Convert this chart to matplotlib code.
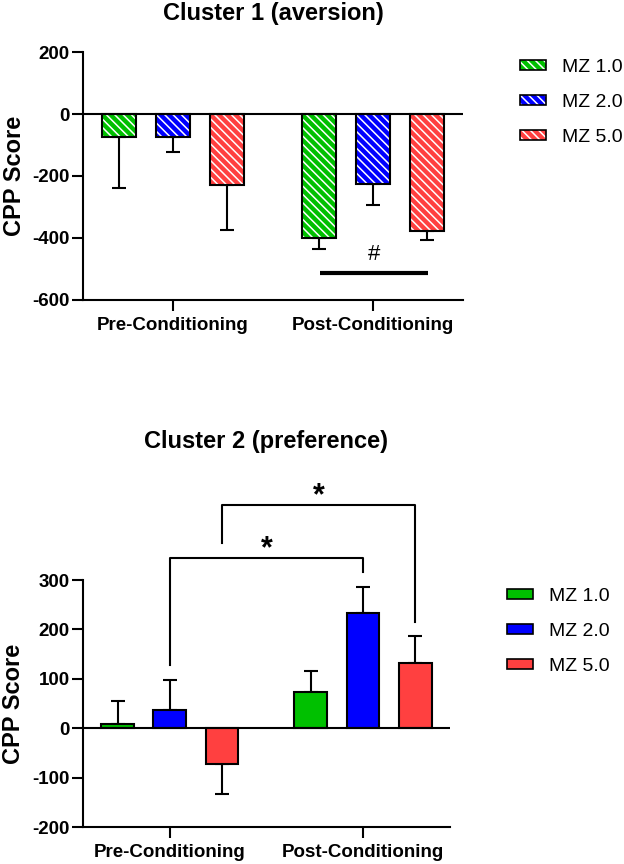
import numpy as np
import matplotlib
matplotlib.use("Agg")
import matplotlib.pyplot as plt
from matplotlib.patches import Patch
from matplotlib.legend_handler import HandlerTuple

plt.rcParams['font.family'] = ['Liberation Sans', 'DejaVu Sans']
plt.rcParams['hatch.linewidth'] = 1.1
plt.rcParams['axes.unicode_minus'] = False

# -----------------------
# Data
# -----------------------
phases = ["Pre-Conditioning", "Post-Conditioning"]
groups = ["MZ 1.0", "MZ 2.0", "MZ 5.0"]
colors = ["#00C000", "#0000FF", "#FF4040"]

# Cluster 1 (aversion): mean and SEM per group, [pre, post]
c1_mean = {"MZ 1.0": [-73, -400], "MZ 2.0": [-73, -227], "MZ 5.0": [-230, -378]}
c1_sem = {"MZ 1.0": [165, 35], "MZ 2.0": [49, 68], "MZ 5.0": [144, 30]}

# Cluster 2 (preference)
c2_mean = {"MZ 1.0": [9, 74], "MZ 2.0": [36, 234], "MZ 5.0": [-72, 132]}
c2_sem = {"MZ 1.0": [47, 41], "MZ 2.0": [62, 51], "MZ 5.0": [61, 55]}

c1_yticks = [-600, -400, -200, 0, 200]
c2_yticks = [-200, -100, 0, 100, 200, 300]

# '#' line under the post-conditioning bars of cluster 1
hash_x = [0.735, 1.275]
hash_y = -513

# significance brackets for cluster 2:
# (group, phase) -> (group, phase), left leg bottom, bar height, right leg bottom
brackets = [
    (("MZ 2.0", 0), ("MZ 2.0", 1), 128, 345, 316, "*"),
    (("MZ 5.0", 0), ("MZ 5.0", 1), 375, 452, 215, "*"),
]

WIDTH = 0.17
OFFSETS = [-0.27, 0.0, 0.27]
LW = 1.5


def style_axes(ax, ylim, yticks, label_x):
    ax.set_xlim(-0.45, 1.45)
    ax.set_ylim(*ylim)
    ax.set_yticks(yticks)
    ax.set_xticks(range(len(phases)))
    ax.set_xticklabels(phases)
    for side in ["top", "right"]:
        ax.spines[side].set_visible(False)
    for side in ["left", "bottom"]:
        ax.spines[side].set_linewidth(LW)
    ax.tick_params(width=LW, length=8, labelsize=13.5, pad=1.5)
    ax.tick_params(axis="x", pad=4)
    for lab in ax.get_xticklabels() + ax.get_yticklabels():
        lab.set_fontweight("bold")
    ax.axhline(0, color="black", lw=LW, zorder=4)
    ax.set_ylabel("CPP Score", fontsize=17, fontweight="bold")
    ax.yaxis.set_label_coords(label_x, 0.5)


def one_sided_err(means, sems):
    means = np.array(means)
    sems = np.array(sems)
    lower = np.where(means < 0, sems, 0)
    upper = np.where(means >= 0, sems, 0)
    return [lower, upper]


fig = plt.figure(figsize=(6.24, 8.64), dpi=100)
ax1 = fig.add_axes([0.1330, 0.6528, 0.6090, 0.2870])
ax2 = fig.add_axes([0.1330, 0.0428, 0.5881, 0.2859])

x = np.arange(len(phases))
leg_kw = dict(bbox_transform=fig.transFigure, frameon=False, fontsize=14,
              borderpad=0, borderaxespad=0, handlelength=1.34, handleheight=0.45,
              handletextpad=0.82, labelspacing=0.93, loc="upper left")

# -----------------------
# Cluster 1 (hatched bars)
# -----------------------
handles1 = []
for g, c, off in zip(groups, colors, OFFSETS):
    pos = x + off
    ax1.errorbar(pos, c1_mean[g], yerr=one_sided_err(c1_mean[g], c1_sem[g]),
                 fmt="none", ecolor="black", elinewidth=LW, capsize=5,
                 capthick=LW, zorder=1)
    ax1.bar(pos, c1_mean[g], WIDTH, color=c, edgecolor="white",
            hatch="\\\\\\\\", linewidth=0, zorder=2)
    ax1.bar(pos, c1_mean[g], WIDTH, fill=False, edgecolor="black",
            linewidth=LW, zorder=3)
    handles1.append((Patch(facecolor=c, edgecolor="white", hatch="\\\\\\\\", linewidth=0),
                     Patch(fill=False, edgecolor="black", linewidth=1.2)))

style_axes(ax1, (-600, 200), c1_yticks, -0.151)
ax1.set_title("Cluster 1 (aversion)", fontsize=17, fontweight="bold", pad=23)

ax1.plot(hash_x, [hash_y, hash_y], color="black", lw=3, solid_capstyle="butt")
ax1.text(np.mean(hash_x), hash_y + 60, "#", ha="center", va="center", fontsize=16)

ax1.legend(handles1, groups, handler_map={tuple: HandlerTuple(ndivide=1, pad=0)},
           bbox_to_anchor=(520 / 624, 1 - 59 / 864), **leg_kw)

# -----------------------
# Cluster 2 (solid bars)
# -----------------------
handles2 = []
for g, c, off in zip(groups, colors, OFFSETS):
    pos = x + off
    ax2.errorbar(pos, c2_mean[g], yerr=one_sided_err(c2_mean[g], c2_sem[g]),
                 fmt="none", ecolor="black", elinewidth=LW, capsize=5,
                 capthick=LW, zorder=1)
    ax2.bar(pos, c2_mean[g], WIDTH, color=c, edgecolor="black",
            linewidth=LW, zorder=2)
    handles2.append(Patch(facecolor=c, edgecolor="black", linewidth=1.2))

style_axes(ax2, (-200, 300), c2_yticks, -0.157)
ax2.set_title("Cluster 2 (preference)", fontsize=17, fontweight="bold", pad=95)

for (g1, p1), (g2, p2), y_left, y_top, y_right, mark in brackets:
    xl = p1 + OFFSETS[groups.index(g1)]
    xr = p2 + OFFSETS[groups.index(g2)]
    ax2.plot([xl, xl, xr, xr], [y_left, y_top, y_top, y_right], color="black",
             lw=LW, clip_on=False)
    ax2.text((xl + xr) / 2, y_top + 2, mark, ha="center", va="baseline",
             fontsize=22, fontweight="bold", clip_on=False)

ax2.legend(handles2, groups, bbox_to_anchor=(507 / 624, 1 - 588 / 864), **leg_kw)

fig.savefig("out.png", dpi=100)
